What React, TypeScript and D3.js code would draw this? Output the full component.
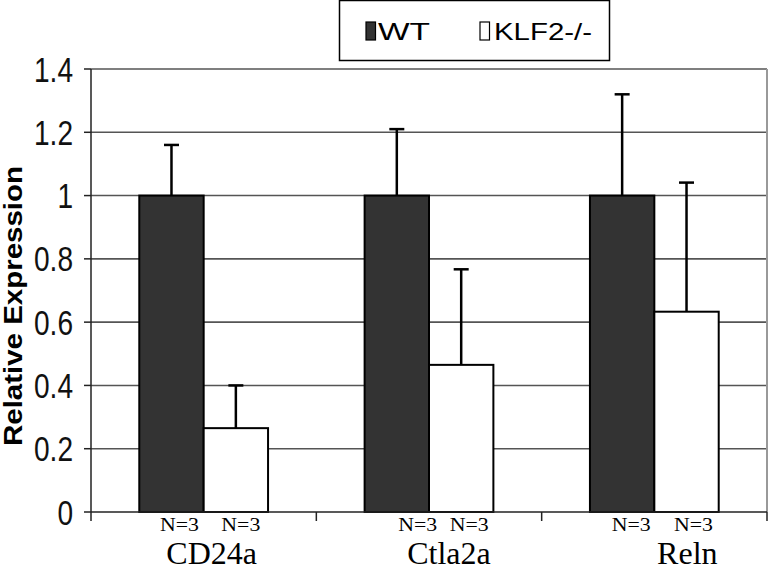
import React from 'react'
import * as d3 from 'd3'

// chart data
const genes = ['CD24a', 'Ctla2a', 'Reln']
const groups = ['WT', 'KLF2-/-']
const wtValues = [1, 1, 1]
const wtErrors = [0.16, 0.21, 0.32]
const koValues = [0.265, 0.465, 0.633]
const koErrors = [0.135, 0.302, 0.408]
const nLabels = ['N=3', 'N=3']
const yTicks = [0, 0.2, 0.4, 0.6, 0.8, 1, 1.2, 1.4]
const yTickLabels = ['0', '0.2', '0.4', '0.6', '0.8', '1', '1.2', '1.4']

// hand placed label nudges in the original figure
const geneNudge = [8, 20, 33]
const nNudge = [[8, 5], [21, 8], [9, 7]]

const width = 770
const height = 572
const margin = { left: 91, right: 3, top: 69, bottom: 60 }

function App() {
  const x0 = d3.scaleBand()
    .domain(genes)
    .range([margin.left, width - margin.right])
    .paddingInner(0)
    .paddingOuter(0)

  // Excel style gap width 150%
  const x1 = d3.scaleBand()
    .domain(groups)
    .range([0, x0.bandwidth()])
    .paddingInner(0)
    .paddingOuter(0.75)

  const y = d3.scaleLinear()
    .domain([0, 1.4])
    .range([height - margin.bottom, margin.top])

  const rows = genes.map((g, i) => ({
    gene: g,
    bars: [
      { key: groups[0], value: wtValues[i], err: wtErrors[i], fill: '#333333' },
      { key: groups[1], value: koValues[i], err: koErrors[i], fill: '#ffffff' }
    ]
  }))

  const left = margin.left
  const right = width - margin.right
  const bottom = y(0)
  const bandEdges = genes.map(g => x0(g)).concat([right])
  const capHalf = 7.5

  return (
    <svg width={width} height={height} style={{ position: 'absolute', left: 0, top: 0 }}>
      <rect x={0} y={0} width={width} height={height} fill="#fff" />

      {/* gridlines */}
      {yTicks.filter(t => t > 0).map(t => (
        <line key={t} x1={left} x2={right} y1={y(t)} y2={y(t)} stroke="#555" strokeWidth={1.6} />
      ))}
      <line x1={right} x2={right} y1={y(1.4)} y2={bottom} stroke="#999" strokeWidth={2} />

      {/* bars */}
      {rows.map(r => (
        <g key={r.gene} transform={`translate(${x0(r.gene)},0)`}>
          {r.bars.map(b => (
            <rect key={b.key}
              x={x1(b.key)} y={y(b.value)}
              width={x1.bandwidth()} height={bottom - y(b.value)}
              fill={b.fill} stroke="#000" strokeWidth={2} />
          ))}
          {r.bars.map(b => {
            const cx = x1(b.key) + x1.bandwidth() / 2
            const top = y(b.value + b.err)
            return (
              <g key={b.key + '-err'} stroke="#000" strokeWidth={2.5}>
                <line x1={cx} x2={cx} y1={y(b.value)} y2={top} />
                <line x1={cx - capHalf} x2={cx + capHalf} y1={top} y2={top} />
              </g>
            )
          })}
        </g>
      ))}

      {/* axes */}
      <line x1={left} x2={left} y1={y(1.4)} y2={bottom} stroke="#222" strokeWidth={1.5} />
      <line x1={left} x2={right} y1={bottom} y2={bottom} stroke="#222" strokeWidth={1.5} />
      {yTicks.map(t => (
        <line key={t} x1={left - 7} x2={left} y1={y(t)} y2={y(t)} stroke="#222" strokeWidth={1.5} />
      ))}
      {bandEdges.map((e, i) => (
        <line key={i} x1={e} x2={e} y1={bottom} y2={bottom + 9} stroke="#222" strokeWidth={1.5} />
      ))}
      {yTicks.map((t, i) => (
        <g key={t} transform={`translate(73,${y(t)}) scale(0.78,1)`}>
          <text textAnchor="end" dy="0.35em" fontFamily="Arial, 'Liberation Sans'" fontSize={36} fill="#111">
            {yTickLabels[i]}
          </text>
        </g>
      ))}
      <text transform={`translate(22,${306}) rotate(-90)`} textAnchor="middle"
        fontFamily="Arial, 'Liberation Sans'" fontWeight="bold" fontSize={25} fill="#000"
        textLength={280} lengthAdjust="spacingAndGlyphs">
        Relative  Expression
      </text>

      {/* category labels */}
      {rows.map((r, i) => (
        <g key={r.gene + '-lab'} fontFamily="'Times New Roman', 'Liberation Serif', serif" fill="#000">
          {r.bars.map((b, j) => (
            <text key={b.key} x={x0(r.gene) + x1(b.key) + x1.bandwidth() / 2 + nNudge[i][j]} y={531}
              textAnchor="middle" fontSize={18.5} textLength={39} lengthAdjust="spacingAndGlyphs">
              {nLabels[j]}
            </text>
          ))}
          <text x={x0(r.gene) + x0.bandwidth() / 2 + geneNudge[i]} y={564} textAnchor="middle" fontSize={32}>
            {r.gene}
          </text>
        </g>
      ))}

      {/* legend */}
      <rect x={339.5} y={0.5} width={270} height={60} fill="#fff" stroke="#000" strokeWidth={1.5} />
      <rect x={366} y={22} width={9.5} height={18} fill="#333" stroke="#000" strokeWidth={1.2} />
      <text x={378} y={39.5} fontFamily="Arial, 'Liberation Sans'" fontSize={24} fill="#000"
        textLength={52} lengthAdjust="spacingAndGlyphs">{groups[0]}</text>
      <rect x={480} y={22} width={9.5} height={18} fill="#fff" stroke="#000" strokeWidth={1.2} />
      <text x={494} y={39.5} fontFamily="Arial, 'Liberation Sans'" fontSize={24} fill="#000"
        textLength={98} lengthAdjust="spacingAndGlyphs">{groups[1]}</text>
    </svg>
  )
}

export default App
